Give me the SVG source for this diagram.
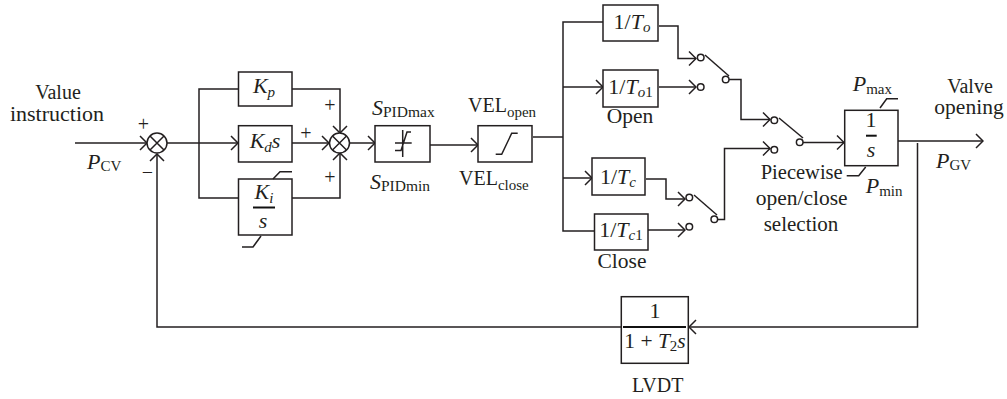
<svg xmlns="http://www.w3.org/2000/svg" width="1007" height="399" viewBox="0 0 1007 399">
<style>
text{font-family:"Liberation Serif","Times New Roman",serif;font-size:20px;fill:#231f20}
.m{text-anchor:middle}
.i{font-style:italic}
.s{font-size:15px}
.b{font-size:22px}
.t{font-size:21.500px}
.box{fill:#fff;stroke:#231f20;stroke-width:1.5}
.l{fill:none;stroke:#231f20;stroke-width:1.5}
.a{fill:none;stroke:#231f20;stroke-width:1.5;marker-end:url(#arr)}
.bar{fill:none;stroke:#111;stroke-width:2}
.c{fill:#fff;stroke:#231f20;stroke-width:1.5}
</style>
<defs>
<marker id="arr" markerUnits="userSpaceOnUse" viewBox="-9 -9 10 18" markerWidth="10" markerHeight="18" refX="0" refY="0" orient="auto">
<path d="M-7,-7 L0,0 L-7,7" fill="none" stroke="#231f20" stroke-width="1.5"/>
</marker>
<g id="sum"><circle r="10" class="c"/><path d="M-7,-7 L7,7 M-7,7 L7,-7" class="l"/></g>
</defs>
<rect width="1007" height="399" fill="#fff"/>
<g id="connectors">
<path class="a" d="M75 143H147"/>
<path class="l" d="M167 143H199"/>
<path class="l" d="M238 89H199V198H238"/>
<path class="a" d="M199 143H238"/>
<path class="a" d="M292 89H340V133"/>
<path class="a" d="M292 143H329"/>
<path class="a" d="M292 198H340V153"/>
<path class="a" d="M350 143H375"/>
<path class="a" d="M430 145H478"/>
<path class="l" d="M533 137H563"/>
<path class="l" d="M603 22H563V231H594"/>
<path class="a" d="M563 87H603"/>
<path class="a" d="M563 178H592"/>
<path class="a" d="M659 26H678V58.500H696"/>
<path class="a" d="M659 87H696"/>
<path class="a" d="M646 179H666V199H685"/>
<path class="a" d="M648 230H685"/>
<path class="l" d="M705 55L729 76"/>
<path class="l" d="M694 195L717 215"/>
<path class="l" d="M779 118L803 138"/>
<path class="a" d="M729 79.500H741V119.500H770"/>
<path class="a" d="M718 219.500H724.500V148.500H770"/>
<path class="a" d="M803 142.500H844"/>
<path class="a" d="M898 141H983"/>
<path class="a" d="M917.500 143V327H689"/>
<path class="a" d="M621 327H157V154"/>
<circle class="c" cx="700.700" cy="57.500" r="3.300"/>
<circle class="c" cx="700.700" cy="87" r="3.300"/>
<circle class="c" cx="725.700" cy="79.500" r="3.300"/>
<circle class="c" cx="689.300" cy="197.500" r="3.300"/>
<circle class="c" cx="689.300" cy="226.700" r="3.300"/>
<circle class="c" cx="714.300" cy="219.300" r="3.300"/>
<circle class="c" cx="774.300" cy="120.300" r="3.300"/>
<circle class="c" cx="774.300" cy="149.700" r="3.300"/>
<circle class="c" cx="799.700" cy="142.300" r="3.300"/>
</g>
<g id="sum1"><use href="#sum" x="157" y="143"/>
<text x="143.500" y="131" class="m">+</text><text x="147.500" y="179" class="m">−</text></g>
<g id="sum2"><use href="#sum" x="339.500" y="143"/>
<text x="330" y="112" class="m">+</text><text x="306" y="140" class="m">+</text><text x="330" y="184" class="m">+</text></g>
<g id="input"><text x="58" y="99" class="m">Value</text><text x="57" y="121" class="m" style="font-size:22px">instruction</text>
<text x="87" y="169" class="b"><tspan class="i">P</tspan><tspan class="s" dy="2">CV</tspan></text></g>
<g id="kp"><rect class="box" x="238.500" y="72" width="53.500" height="34"/>
<text x="264" y="93" class="m b"><tspan class="i">K</tspan><tspan class="i s" dy="4">p</tspan></text></g>
<g id="kd"><rect class="box" x="238.500" y="125.700" width="53.500" height="36.300"/>
<text x="265" y="148" class="m b"><tspan class="i">K</tspan><tspan class="i s" dy="4">d</tspan><tspan class="i" dy="-4">s</tspan></text></g>
<g id="ki"><rect class="box" x="238.500" y="179" width="53.500" height="56"/>
<text x="264" y="199" class="m b"><tspan class="i">K</tspan><tspan class="i s" dy="4">i</tspan></text>
<path class="bar" d="M253 207.500H275"/>
<text x="263" y="228" class="m i b">s</text>
<path class="l" d="M273 179L280 171.700H292M261 236L253 247H242"/></g>
<g id="spid"><rect class="box" x="375" y="125.700" width="55" height="36.300"/>
<path class="l" d="M402.700 130V157M395 143H411.700M395 150.500H401L407 132H411"/>
<text x="372" y="115" class="b"><tspan class="i">S</tspan><tspan style="font-size:15.500px" dy="2">PIDmax</tspan></text>
<text x="370" y="189" class="b"><tspan class="i">S</tspan><tspan style="font-size:15.500px" dy="2">PIDmin</tspan></text></g>
<g id="vel"><rect class="box" x="478" y="125.700" width="54" height="36.300"/>
<path class="l" d="M495.700 154.300H501.700L511.700 133.300H517.700"/>
<text x="468" y="112">VEL<tspan class="s" dy="5">open</tspan></text>
<text x="459" y="185">VEL<tspan class="s" dy="5">close</tspan></text></g>
<g id="to"><rect class="box" x="603" y="5" width="55" height="36"/>
<text x="632" y="29" class="m b">1/<tspan class="i">T</tspan><tspan class="i s" dy="3">o</tspan></text></g>
<g id="to1"><rect class="box" x="603" y="70" width="55" height="37"/>
<text x="630.500" y="94" class="m b">1/<tspan class="i">T</tspan><tspan class="i s" dy="3">o</tspan><tspan class="s">1</tspan></text>
<text x="630" y="123" class="m t">Open</text></g>
<g id="tc"><rect class="box" x="592" y="158" width="53" height="37"/>
<text x="618" y="184" class="m b">1/<tspan class="i">T</tspan><tspan class="i s" dy="3">c</tspan></text></g>
<g id="tc1"><rect class="box" x="594.500" y="214" width="53.500" height="36"/>
<text x="621" y="237" class="m b">1/<tspan class="i">T</tspan><tspan class="i s" dy="3">c</tspan><tspan class="s">1</tspan></text>
<text x="622" y="268" class="m t">Close</text></g>
<g id="selector"><text x="801.700" y="179" class="m" style="font-size:20.500px">Piecewise</text>
<text x="801.700" y="205" class="m t">open/close</text>
<text x="801" y="230.700" class="m" style="font-size:21px">selection</text></g>
<g id="integrator"><rect class="box" x="844.700" y="110.300" width="53.300" height="55.400"/>
<text x="871" y="127" class="m b">1</text>
<path class="bar" d="M866 135.700H876.700"/>
<text x="871" y="156.700" class="m i b">s</text>
<path class="l" d="M880 108L886.700 98.700H898M865.700 167L858.700 175.700H846.700"/>
<text x="852.700" y="90.700" class="b"><tspan class="i">P</tspan><tspan class="s" dy="3">max</tspan></text>
<text x="865.700" y="192.700" class="b"><tspan class="i">P</tspan><tspan class="s" dy="3">min</tspan></text></g>
<g id="output"><text x="970" y="92.700" class="m">Valve</text><text x="969" y="114" class="m t">opening</text>
<text x="936" y="168" class="b"><tspan class="i">P</tspan><tspan class="s" dy="2">GV</tspan></text></g>
<g id="lvdt"><rect class="box" x="621.300" y="296.700" width="67" height="66.600"/>
<text x="655" y="318" class="m b">1</text>
<path class="bar" d="M623 327H686"/>
<text x="655" y="348" class="m" style="font-size:21.500px">1 + <tspan class="i">T</tspan><tspan class="s" dy="3">2</tspan><tspan class="i" dy="-3">s</tspan></text>
<text x="657.700" y="391.600" class="m">LVDT</text></g>
</svg>
